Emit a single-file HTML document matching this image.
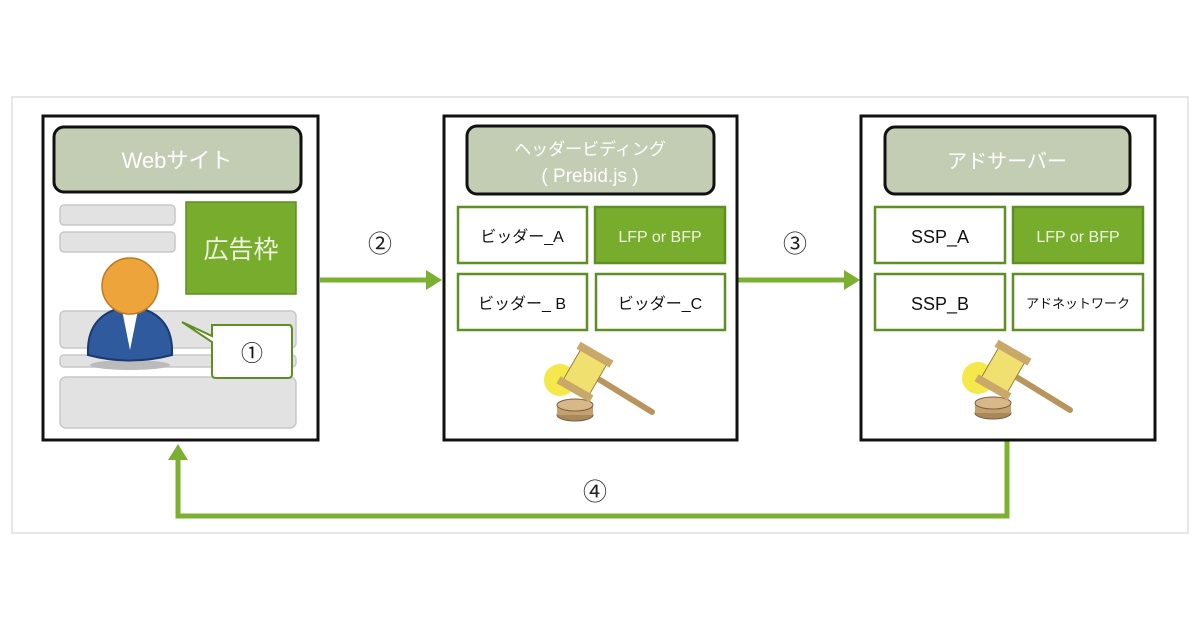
<!DOCTYPE html>
<html><head><meta charset="utf-8"><style>
html,body{margin:0;padding:0;background:#fff;}
svg text{font-family:"Liberation Sans","Noto Sans CJK JP",sans-serif;}
</style></head><body>
<svg width="1200" height="630" viewBox="0 0 1200 630" xmlns="http://www.w3.org/2000/svg">
<rect x="12" y="97" width="1176" height="436" fill="#fff" stroke="#e6e6e6" stroke-width="2"/>
<!-- connectors -->
<g stroke="#7cb030" stroke-width="5" fill="none">
<line x1="320" y1="280" x2="428" y2="280"/>
<line x1="738" y1="280" x2="846" y2="280"/>
<polyline points="1007,440 1007,516 178,516 178,458"/>
</g>
<g fill="#7cb030">
<polygon points="442,280 426,270 426,290"/>
<polygon points="860,280 844,270 844,290"/>
<polygon points="178,444 168,460 188,460"/>
</g>
<text x="380" y="252" font-size="24" text-anchor="middle" fill="#222">②</text>
<text x="795" y="252" font-size="24" text-anchor="middle" fill="#222">③</text>
<text x="595" y="500" font-size="24" text-anchor="middle" fill="#222">④</text>

<!-- left panel -->
<rect x="43" y="116" width="275" height="324" fill="#fff" stroke="#111" stroke-width="3"/>
<rect x="54" y="127" width="247" height="65" rx="10" fill="#c3cdb4" stroke="#111" stroke-width="3"/>
<text x="177" y="168" font-size="22" text-anchor="middle" fill="#fff">Webサイト</text>
<g fill="#e2e2e2" stroke="#c8c8c8" stroke-width="1.5">
<rect x="60" y="205" width="115" height="20" rx="4"/>
<rect x="60" y="232" width="115" height="20" rx="4"/>
<rect x="60" y="311" width="236" height="37" rx="5"/>
<rect x="60" y="355" width="236" height="12" rx="4"/>
<rect x="60" y="377" width="236" height="51" rx="6"/>
</g>
<rect x="186" y="202" width="110" height="92" fill="#78ac2c" stroke="#5f8f22" stroke-width="1.5"/>
<text x="241" y="258" font-size="25" text-anchor="middle" fill="#eef5e0">広告枠</text>
<!-- person -->
<ellipse cx="130" cy="365" rx="40" ry="5" fill="#bbb"/>
<path d="M88,355 Q86,312 130,306 Q174,312 172,355 Q130,366 88,355Z" fill="#2f5a9e" stroke="#1a3a70" stroke-width="2"/>
<path d="M122,310 L130,350 L138,310Z" fill="#fff"/>
<circle cx="130" cy="286" r="28" fill="#eda43a" stroke="#c07a20" stroke-width="1.5"/>
<!-- callout -->
<path d="M212,325 L289,325 Q292,325 292,330 L292,374 Q292,378 288,378 L216,378 Q212,378 212,374 L212,342 L182,322 L212,336Z" fill="#fff" stroke="#5f8f22" stroke-width="2"/>
<text x="252" y="361" font-size="22" text-anchor="middle" fill="#111">①</text>

<!-- middle panel -->
<rect x="444" y="116" width="293" height="324" fill="#fff" stroke="#111" stroke-width="3"/>
<rect x="467" y="126" width="247" height="68" rx="10" fill="#c3cdb4" stroke="#111" stroke-width="3"/>
<text x="590" y="155" font-size="17" text-anchor="middle" fill="#fff">ヘッダービディング</text>
<text x="590" y="182" font-size="19" text-anchor="middle" fill="#fff">( Prebid.js )</text>
<g stroke="#5f8f22" stroke-width="2.5">
<rect x="458" y="207" width="129" height="56" fill="#fff"/>
<rect x="595" y="207" width="130" height="56" fill="#78ac2c"/>
<rect x="458" y="274" width="129" height="56" fill="#fff"/>
<rect x="596" y="274" width="129" height="56" fill="#fff"/>
</g>
<text x="522" y="242" font-size="16" text-anchor="middle" fill="#111">ビッダー_A</text>
<text x="660" y="242" font-size="16" text-anchor="middle" fill="#eef5e0">LFP or  BFP</text>
<text x="522" y="309" font-size="16" text-anchor="middle" fill="#111">ビッダー_ B</text>
<text x="660" y="309" font-size="16" text-anchor="middle" fill="#111">ビッダー_C</text>

<!-- right panel -->
<rect x="861" y="116" width="294" height="324" fill="#fff" stroke="#111" stroke-width="3"/>
<rect x="885" y="127" width="245" height="67" rx="10" fill="#c3cdb4" stroke="#111" stroke-width="3"/>
<text x="1007" y="168" font-size="20" text-anchor="middle" fill="#fff">アドサーバー</text>
<g stroke="#5f8f22" stroke-width="2.5">
<rect x="875" y="207" width="130" height="56" fill="#fff"/>
<rect x="1013" y="207" width="130" height="56" fill="#78ac2c"/>
<rect x="875" y="274" width="130" height="56" fill="#fff"/>
<rect x="1013" y="274" width="130" height="56" fill="#fff"/>
</g>
<text x="940" y="243" font-size="18" text-anchor="middle" fill="#111">SSP_A</text>
<text x="1078" y="242" font-size="16" text-anchor="middle" fill="#eef5e0">LFP or  BFP</text>
<text x="940" y="310" font-size="18" text-anchor="middle" fill="#111">SSP_B</text>
<text x="1078" y="308" font-size="13" text-anchor="middle" fill="#111">アドネットワーク</text>

<!-- gavels -->
<g id="g1">
<ellipse cx="575" cy="415" rx="18" ry="6" fill="#a9885a" stroke="#7a6040"/>
<rect x="557" y="405" width="36" height="10" fill="#c4a070"/>
<ellipse cx="575" cy="405" rx="18" ry="6" fill="#d8b888" stroke="#7a6040"/>
<circle cx="560" cy="380" r="16" fill="#f5e84a"/>
<line x1="600" y1="380" x2="652" y2="412" stroke="#b8955c" stroke-width="6" stroke-linecap="round"/>
<g transform="rotate(30 585 372)">
<rect x="570" y="352" width="30" height="40" fill="#f0e070" stroke="#9a8040"/>
<rect x="566" y="348" width="38" height="8" fill="#c9a86a"/>
<rect x="566" y="388" width="38" height="8" fill="#c9a86a"/>
</g>
</g>
<use href="#g1" x="418" y="-2"/>
</svg>
</body></html>
